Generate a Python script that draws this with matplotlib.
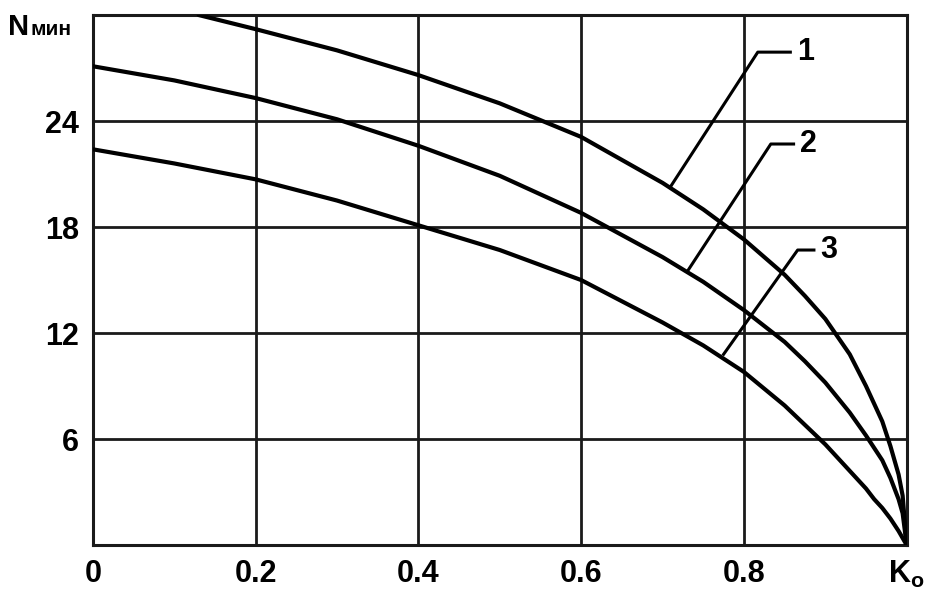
import matplotlib
matplotlib.use('Agg')
import matplotlib.pyplot as plt

plt.rcParams['font.family'] = ['Liberation Sans', 'DejaVu Sans']
plt.rcParams['mathtext.fontset'] = 'custom'
plt.rcParams['mathtext.rm'] = 'Liberation Sans'
plt.rcParams['mathtext.bf'] = 'Liberation Sans:bold'

# curves (K_o vs N_min)
k1 = [0.13, 0.2, 0.3, 0.4, 0.5, 0.6, 0.7, 0.75, 0.8, 0.85, 0.875, 0.9, 0.93, 0.95, 0.96, 0.97, 0.98, 0.99, 0.995, 1.0]
n1 = [30.0, 29.2, 28.0, 26.6, 25.0, 23.1, 20.5, 19.0, 17.3, 15.3, 14.1, 12.8, 10.8, 9.0, 8.0, 7.0, 5.6, 4.0, 2.8, 0.0]

k2 = [0.0, 0.1, 0.2, 0.3, 0.4, 0.5, 0.6, 0.7, 0.75, 0.8, 0.85, 0.875, 0.9, 0.93, 0.95, 0.96, 0.97, 0.98, 0.99, 0.995, 1.0]
n2 = [27.1, 26.3, 25.3, 24.1, 22.6, 20.9, 18.8, 16.3, 14.9, 13.3, 11.5, 10.4, 9.2, 7.5, 6.2, 5.5, 4.8, 3.8, 2.6, 1.8, 0.0]

k3 = [0.0, 0.1, 0.2, 0.3, 0.4, 0.5, 0.6, 0.7, 0.75, 0.8, 0.85, 0.875, 0.9, 0.93, 0.95, 0.96, 0.97, 0.98, 0.99, 0.995, 1.0]
n3 = [22.4, 21.6, 20.7, 19.5, 18.1, 16.7, 15.0, 12.6, 11.3, 9.8, 7.9, 6.8, 5.7, 4.2, 3.2, 2.6, 2.1, 1.5, 0.8, 0.4, 0.0]

# leader lines for the curve numbers: (x, y) of start, bend, end
labels = ['1', '2', '3']
lead_x = [[0.710, 0.817, 0.857], [0.732, 0.833, 0.861], [0.775, 0.866, 0.886]]
lead_y = [[20.3, 27.9, 27.9], [15.6, 22.7, 22.7], [10.8, 16.7, 16.7]]

xticks = [0, 0.2, 0.4, 0.6, 0.8, 1.0]
xlabels = ['0', '0.2', '0.4', '0.6', '0.8', r'$\mathbf{K_o}$']
yticks = [6, 12, 18, 24]

fig = plt.figure(figsize=(9.29, 6.01), dpi=100)
ax = fig.add_axes([0.100, 0.093, 0.876, 0.882])

for x in xticks:
    ax.axvline(x, color='#1a1a1a', lw=2.0, zorder=1)
for y in yticks + [30]:
    ax.axhline(y, color='#1a1a1a', lw=2.0, zorder=1)

for k, n in [(k1, n1), (k2, n2), (k3, n3)]:
    ax.plot(k, n, color='black', lw=3.0, solid_capstyle='round',
            solid_joinstyle='round', zorder=3)

for lab, lx, ly in zip(labels, lead_x, lead_y):
    ax.plot(lx, ly, color='black', lw=2.2, zorder=3)
    ax.text(lx[-1] + 0.008, ly[-1], lab, fontsize=22, fontweight='bold',
            ha='left', va='center')

ax.set_xlim(0, 1.0)
ax.set_ylim(0, 30)
ax.set_xticks(xticks)
ax.set_xticklabels(xlabels)
ax.set_yticks(yticks)
ax.tick_params(length=0, labelsize=22, pad=10)
for t in ax.get_xticklabels() + ax.get_yticklabels():
    t.set_fontweight('bold')
for s in ax.spines.values():
    s.set_linewidth(2.2)
    s.set_color('#1a1a1a')

fig.text(0.009, 0.942, 'N', fontsize=21, fontweight='bold', ha='left', va='baseline')
fig.text(0.033, 0.942, 'мин', fontsize=15, fontweight='bold', ha='left', va='baseline')

fig.savefig('out.png', dpi=100)
